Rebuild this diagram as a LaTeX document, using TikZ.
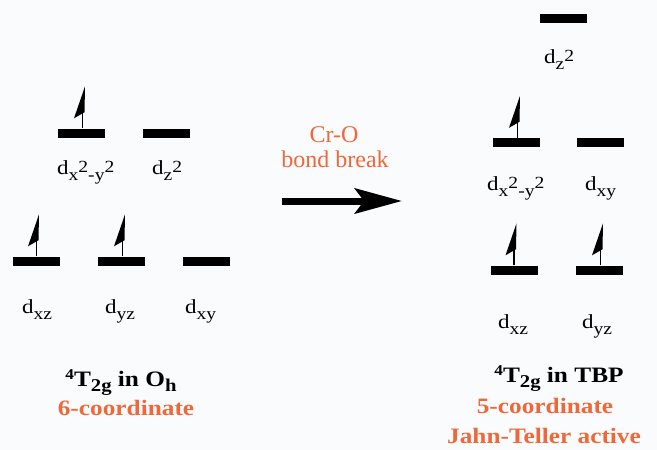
\documentclass[tikz,border=0pt]{standalone}
\usepackage{fontspec}
\usepackage{graphicx}
\setmainfont{Liberation Serif}
\usetikzlibrary{arrows.meta}
\definecolor{lblorange}{RGB}{240,104,58}
\definecolor{bgc}{RGB}{250,251,253}
\newcommand{\sx}[1]{\scalebox{1.15}[1]{#1}}
\newcommand{\lo}[1]{\raisebox{-6pt}{\fontsize{17}{17}\selectfont #1}}
\newcommand{\hi}[1]{\raisebox{2pt}{\fontsize{17}{17}\selectfont #1}}
\newcommand{\dl}[1]{\sx{\fontsize{20}{20}\selectfont d#1}}
\newcommand{\bsup}[1]{\raisebox{7pt}{\fontsize{15}{15}\selectfont #1}}
\newcommand{\bsub}[1]{\raisebox{-5pt}{\fontsize{18}{18}\selectfont #1}}
\tikzset{
  level/.style={rectangle, fill=black, inner sep=0pt, minimum width=47pt, minimum height=9pt},
  dlabel/.style={anchor=base west, inner sep=0pt},
  btext/.style={anchor=base, inner sep=0pt, font=\fontsize{22}{22}\selectfont\bfseries},
  otext/.style={anchor=base, inner sep=0pt, text=lblorange, font=\fontsize{24}{24}\selectfont},
  bigarrow/.style={line width=7pt, -{Stealth[length=47pt,width=25pt,inset=9pt]}},
  spin/.pic={
    \draw[line width=1.6pt] (0,0) -- (0,-26);
    \fill (2.5,-42) -- (-8.5,-10) -- (2,-16) -- cycle;
  }
}
\begin{document}
\begin{tikzpicture}[x=1pt,y=-1pt]
\fill[bgc] (0,0) rectangle (657,450);
\useasboundingbox (0,0) rectangle (657,450);
% left levels
\node[level] (A) at (81.5,133) {};
\node[level] (B) at (166.5,133) {};
\node[level] (C) at (36.5,261) {};
\node[level] (D) at (121.5,261) {};
\node[level] (E) at (206.5,261) {};
\pic at ([xshift=1pt]A.north) {spin};
\pic at ([xshift=0pt]C.north) {spin};
\pic at ([xshift=1pt]D.north) {spin};
\node[dlabel] (lA) at (57,174) {\dl{\lo{x}\hi{2}\lo{-y}\hi{2}}};
\node[dlabel] (lB) at (152,174) {\dl{\lo{z}\hi{2}}};
\node[dlabel] (lC) at (22,313) {\dl{\lo{xz}}};
\node[dlabel] (lD) at (105,313) {\dl{\lo{yz}}};
\node[dlabel] (lE) at (185,313) {\dl{\lo{xy}}};
% right levels
\node[level] (F) at (563,18) {};
\node[level] (G) at (516.5,142.5) {};
\node[level] (H) at (600.5,142.5) {};
\node[level] (I) at (514,270) {};
\node[level] (J) at (599.5,270) {};
\pic at ([xshift=1pt]G.north) {spin};
\pic at ([xshift=0pt]I.north) {spin};
\pic at ([xshift=1pt]J.north) {spin};
\node[dlabel] (lF) at (544,63) {\dl{\lo{z}\hi{2}}};
\node[dlabel] (lG) at (487,190) {\dl{\lo{x}\hi{2}\lo{-y}\hi{2}}};
\node[dlabel] (lH) at (585,190) {\dl{\lo{xy}}};
\node[dlabel] (lI) at (498,328) {\dl{\lo{xz}}};
\node[dlabel] (lJ) at (582,328) {\dl{\lo{yz}}};
% arrow
\coordinate (arS) at (282,201);
\coordinate (arE) at (402,201);
\draw[bigarrow] (arS) -- (arE);
\node[otext] (cro) at (334,142) {Cr-O};
\node[otext] (bb) at (335,167) {bond break};
% bottom texts
\node[btext] (tL) at (121,386) {\sx{\bsup{4}T\bsub{2g} in O\bsub{h}}};
\node[btext, text=lblorange] (cL) at (126,415) {\sx{6-coordinate}};
\node[btext] (tR) at (559,382) {\sx{\bsup{4}T\bsub{2g} in TBP}};
\node[btext, text=lblorange] (cR) at (545,413) {\sx{5-coordinate}};
\node[btext, text=lblorange] (jt) at (544,443) {\sx{Jahn-Teller active}};
\end{tikzpicture}
\end{document}
